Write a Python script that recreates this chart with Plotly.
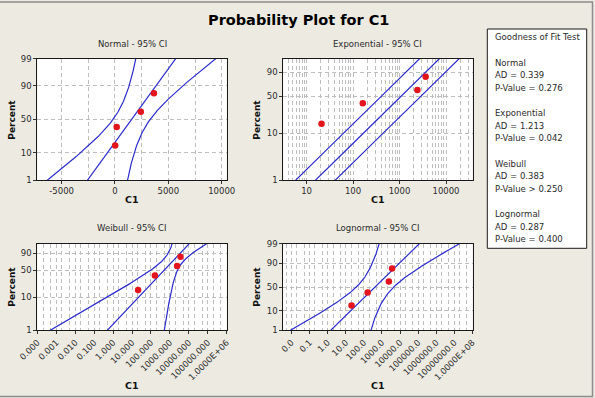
import numpy as np
import plotly.graph_objects as go
from statistics import NormalDist

W, H = 595, 398

# ---------------- data ----------------
c1_values = [21, 162, 2420, 3650]
plot_percents = [15.9, 38.6, 61.4, 84.1]

dist_names = ["Normal", "Exponential", "Weibull", "Lognormal"]
ad_values = ["0.339", "1.213", "0.383", "0.287"]
p_values = ["= 0.276", "= 0.042", "> 0.250", "= 0.400"]

pct_ticks_full = [1, 10, 50, 90, 99]
pct_ticks_ext = [1, 10, 50, 90]

normal_xticks = [-5000, 0, 5000, 10000]
normal_xminor = [-2500, 2500, 7500]
expo_xticks = [10, 100, 1000, 10000]
weib_xticks = [1e-4, 1e-3, 1e-2, 1e-1, 1, 10, 100, 1000, 1e4, 1e5, 1e6]
weib_xlabels = ["0.000", "0.001", "0.010", "0.100", "1.000", "10.000", "100.000",
                "1000.000", "10000.000", "100000.000", "1.0000E+06"]
logn_xticks = [1e-2, 1e-1, 1, 10, 100, 1000, 1e4, 1e5, 1e6, 1e7, 1e8]
logn_xlabels = ["0.0", "0.1", "1.0", "10.0", "100.0", "1000.0", "10000.0",
                "100000.0", "1000000.0", "10000000.0", "1.0000E+08"]

# fitted Weibull parameters and CI variance terms
weib_shape = 0.615
weib_scale = 880.0
weib_var_u, weib_cov_ub, weib_var_b = 0.50, -0.175, 0.49
ci_z = 1.96

# ---------------- helpers ----------------
nd = NormalDist()
def zq(p):
    return nd.inv_cdf(p)
def wq(p):
    return float(np.log(-np.log(1 - p)))

def px(x):
    return x / W
def py(y):
    return 1 - y / H

x_vals = np.array(c1_values, dtype=float)
n = len(x_vals)
probs = np.array(plot_percents) / 100.0
z_pts = np.array([zq(p) for p in probs])
w_pts = np.array([wq(p) for p in probs])

BLUE = "#2A2ACC"
RED = "#E3141B"
GRID = "#BEBEBE"
FONT = "DejaVu Sans"
TXT = "#2a2a2a"

fig = go.Figure()

def add_lines(xs_list, ys, xa, ya):
    for xs in xs_list:
        fig.add_trace(go.Scatter(x=xs, y=ys, mode="lines", xaxis=xa, yaxis=ya,
                                 line=dict(color=BLUE, width=1.2), hoverinfo="skip",
                                 showlegend=False))

def add_points(ys, xa, ya):
    fig.add_trace(go.Scatter(x=x_vals, y=ys, mode="markers", xaxis=xa, yaxis=ya,
                             marker=dict(color=RED, size=6.5), showlegend=False))

# Normal
mu = x_vals.mean(); sd = x_vals.std(ddof=1)
zg = np.linspace(-2.7, 2.7, 300)
xf = mu + zg * sd
hw = ci_z * np.sqrt(sd**2 / n + zg**2 * sd**2 / (2 * (n - 1)))
add_lines([xf - hw, xf, xf + hw], zg, "x", "y")
add_points(z_pts, "x", "y")

# Exponential
theta = x_vals.mean()
wg = np.linspace(-5.2, 2.0, 300)
xe = theta * np.exp(wg)
fe = np.exp(ci_z / np.sqrt(n))
add_lines([xe / fe, xe, xe * fe], wg, "x2", "y2")
add_points(w_pts, "x2", "y2")

# Weibull
lnx = np.log(weib_scale) + wg / weib_shape
var_w = weib_var_u + 2 * wg * weib_cov_ub + wg**2 * weib_var_b
hww = ci_z * np.sqrt(var_w)
add_lines([np.exp(lnx - hww), np.exp(lnx), np.exp(lnx + hww)], wg, "x3", "y3")
add_points(w_pts, "x3", "y3")

# Lognormal
lx = np.log(x_vals)
lm = lx.mean(); ls = lx.std(ddof=1)
lf = lm + zg * ls
hwl = ci_z * np.sqrt(ls**2 / n + zg**2 * ls**2 / (2 * (n - 1)))
add_lines([np.exp(lf - hwl), np.exp(lf), np.exp(lf + hwl)], zg, "x4", "y4")
add_points(z_pts, "x4", "y4")

# ---------------- axes ----------------
tickfont = dict(family=FONT, size=8.5, color=TXT)
common = dict(showline=True, linecolor="#1a1a1a", linewidth=1, mirror=True,
              ticks="outside", ticklen=3, tickcolor="#333", tickfont=tickfont,
              showgrid=True, gridcolor=GRID, gridwidth=1, griddash="4px,3px",
              zeroline=False, fixedrange=True, automargin=False)

def minor_grid(vals):
    return dict(tickvals=vals, showgrid=True, gridcolor=GRID, griddash="4px,3px",
                gridwidth=1, ticks="")

top_y = [py(180), py(58.7)]
bot_y = [py(330.3), py(243.7)]
left_x = [px(37.3), px(226.7)]
right_x = [px(283.3), px(472.5)]

z_range = [zq(0.01), zq(0.99)]
w_range = [wq(0.01), wq(0.99)]

log_minor_25 = [m * 10.0**k for k in range(-5, 9) for m in (2, 5)]
log_minor_all = [m * 10.0**k for k in range(0, 5) for m in range(2, 10)]

layout_axes = dict(
    xaxis=dict(domain=left_x, anchor="y", range=[-7280, 10470],
               tickvals=normal_xticks, ticktext=[str(v) for v in normal_xticks],
               minor=minor_grid(normal_xminor), **common),
    yaxis=dict(domain=top_y, anchor="x", range=z_range,
               tickvals=[zq(p / 100) for p in pct_ticks_full],
               ticktext=[str(p) for p in pct_ticks_full], **common),
    xaxis2=dict(domain=right_x, anchor="y2", type="log", range=[0.5, 4.57],
                tickvals=expo_xticks, ticktext=[str(v) for v in expo_xticks],
                minor=minor_grid(log_minor_all), **common),
    yaxis2=dict(domain=top_y, anchor="x2", range=w_range,
                tickvals=[wq(p / 100) for p in pct_ticks_ext],
                ticktext=[str(p) for p in pct_ticks_ext], **common),
    xaxis3=dict(domain=left_x, anchor="y3", type="log", range=[-4.003, 6.003],
                tickvals=weib_xticks, ticktext=weib_xlabels, tickangle=-45,
                minor=minor_grid(log_minor_25), **common),
    yaxis3=dict(domain=bot_y, anchor="x3", range=w_range,
                tickvals=[wq(p / 100) for p in pct_ticks_ext],
                ticktext=[str(p) for p in pct_ticks_ext], **common),
    xaxis4=dict(domain=right_x, anchor="y4", type="log", range=[-2.45, 8.005],
                tickvals=logn_xticks, ticktext=logn_xlabels, tickangle=-45,
                minor=minor_grid(log_minor_25), **common),
    yaxis4=dict(domain=bot_y, anchor="x4", range=z_range,
                tickvals=[zq(p / 100) for p in pct_ticks_full],
                ticktext=[str(p) for p in pct_ticks_full], **common),
)

# ---------------- annotations ----------------
ann = []
def text(x, y, s, size=8.5, bold=False, angle=0, xanchor="center", color=TXT):
    ann.append(dict(x=px(x), y=py(y), xref="paper", yref="paper", text=s,
                    showarrow=False, xanchor=xanchor, yanchor="middle",
                    textangle=angle,
                    font=dict(family=FONT, size=size, color=color,
                              weight="bold" if bold else "normal")))

text(298, 20, "Probability Plot for C1", size=14.5, bold=True, color="#000")

sub_titles = [f"{d} - 95% CI" for d in dist_names]
text(132, 44, sub_titles[0]); text(377.9, 44, sub_titles[1])
text(132, 228.3, sub_titles[2]); text(377.9, 228.3, sub_titles[3])

for xx in (11.7, 256.7):
    text(xx, 120, "Percent", size=9, bold=True, angle=-90, color="#111")
    text(xx, 287, "Percent", size=9, bold=True, angle=-90, color="#111")
for xx in (132, 377.9):
    text(xx, 199.5, "C1", size=9.5, bold=True, color="#111")
    text(xx, 385, "C1", size=9.5, bold=True, color="#111")

# goodness of fit box
box_lines = ["Goodness of Fit Test", ""]
for i, d in enumerate(dist_names):
    box_lines += [d, f"AD = {ad_values[i]}", f"P-Value {p_values[i]}"]
    if i < len(dist_names) - 1:
        box_lines.append("")
for i, s in enumerate(box_lines):
    if s:
        text(492.7, 37.3 + i * 12.62, s, size=8.5, xanchor="left")

shapes = [
    dict(type="rect", xref="paper", yref="paper", x0=px(-2), x1=px(592.5),
         y0=py(396.5), y1=py(2), line=dict(color="#8c8c8c", width=1.5)),
    dict(type="rect", xref="paper", yref="paper", x0=px(487.3), x1=px(586.7),
         y0=py(248.3), y1=py(29), fillcolor="white", line=dict(color="#1a1a1a", width=1),
         layer="below"),
]

fig.update_layout(width=W, height=H,
                  margin=dict(l=0, r=0, t=0, b=0, pad=0, autoexpand=False),
                  paper_bgcolor="#EDEAE2", plot_bgcolor="white",
                  showlegend=False, annotations=ann, shapes=shapes,
                  **layout_axes)

fig.write_html("out.html", config={"displayModeBar": False})
